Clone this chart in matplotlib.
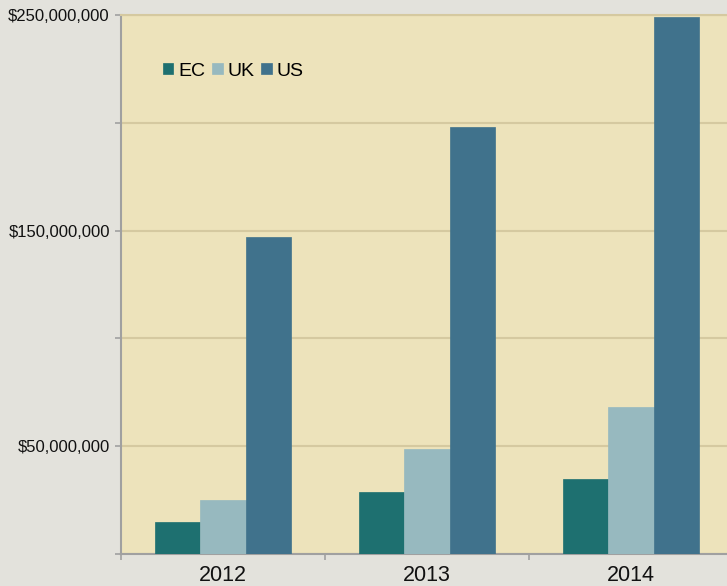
import matplotlib
matplotlib.use("Agg")
import matplotlib.pyplot as plt
import numpy as np
from matplotlib.ticker import FuncFormatter, MultipleLocator, FixedLocator

years = ["2012", "2013", "2014"]
series = ["EC", "UK", "US"]
ec = [15_000_000, 28_800_000, 34_800_000]
uk = [25_000_000, 48_700_000, 68_200_000]
us = [147_000_000, 198_000_000, 249_000_000]
colors = ["#1e7070", "#97b9bf", "#40728c"]

plt.rcParams['font.family'] = ['Liberation Sans', 'DejaVu Sans']

fig = plt.figure(figsize=(7.27, 5.86), dpi=100, facecolor="#e3e2dc")
ax = fig.add_axes([121/727, 32/586, 612/727, 539/586])
ax.set_facecolor("#ede3bb")

x = np.arange(len(years))
w = 0.223
for i, (vals, name, c) in enumerate(zip([ec, uk, us], series, colors)):
    ax.bar(x + (i - 1) * w, vals, width=w, color=c, label=name, zorder=3,
           edgecolor=c, linewidth=0.5)

ax.set_xlim(-0.5, 2.5)
ax.set_ylim(0, 250_000_000)

ax.yaxis.set_major_locator(MultipleLocator(50_000_000))
def fmt(v, pos):
    m = int(round(v / 1e6))
    if m in (50, 150, 250):
        return "${:,.0f}".format(v)
    return ""
ax.yaxis.set_major_formatter(FuncFormatter(fmt))
ax.grid(axis="y", color="#d5c9a0", linewidth=1.5, zorder=1)

ax.set_xticks(x)
ax.set_xticklabels(years, fontsize=15.5)
ax.xaxis.set_minor_locator(FixedLocator([-0.5, 0.5, 1.5, 2.5]))
ax.tick_params(axis="x", which="major", length=0, pad=8, colors="#111111")
ax.tick_params(axis="x", which="minor", length=4, color="#a0a0a0", width=1.2)
ax.tick_params(axis="y", length=4, color="#a0a0a0", width=1.2, labelsize=12,
               pad=4, labelcolor="#111111")

for s in ["left", "bottom"]:
    ax.spines[s].set_color("#a0a0a0")
    ax.spines[s].set_linewidth(1.5)
ax.spines["right"].set_visible(False)
ax.spines["top"].set_color("#d5c9a0")
ax.spines["top"].set_linewidth(1.5)

leg = ax.legend(ncol=3, frameon=False, loc="center left",
                bbox_to_anchor=(153/727, 1 - 71/586), bbox_transform=fig.transFigure,
                fontsize=14, handlelength=0.55, handleheight=0.55,
                handletextpad=0.25, columnspacing=0.35, borderpad=0)

fig.savefig("out.png", dpi=100, facecolor=fig.get_facecolor())
